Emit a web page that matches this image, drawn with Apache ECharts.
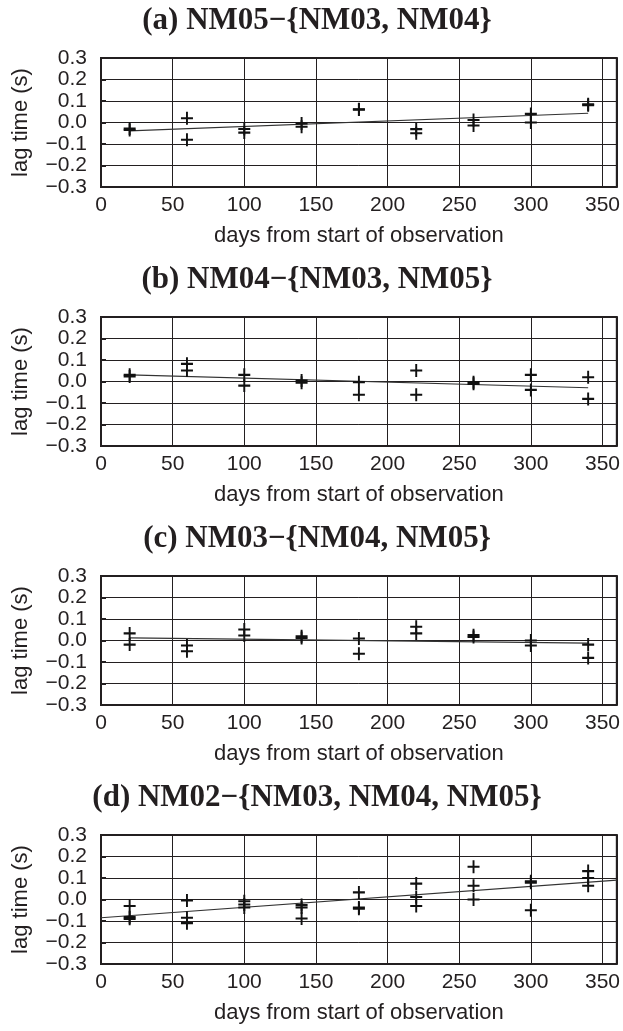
<!DOCTYPE html>
<html><head><meta charset="utf-8">
<script src="https://cdn.jsdelivr.net/npm/echarts@6/dist/echarts.min.js"></script>
<style>html,body{margin:0;padding:0;background:#fff}#c{width:623px;height:1031px}</style>
</head><body><div id="c"></div>
<script>
const days = [20, 60, 100, 140, 180, 220, 260, 300, 340];
const titles = ['(a) NM05\u2212{NM03, NM04}', '(b) NM04\u2212{NM03, NM05}', '(c) NM03\u2212{NM04, NM05}', '(d) NM02\u2212{NM03, NM04, NM05}'];
const xTicks = [0, 50, 100, 150, 200, 250, 300, 350];
const yTicks = [-0.3, -0.2, -0.1, 0.0, 0.1, 0.2, 0.3];
// panel (a)
const lagA1 = [-0.028, 0.020, -0.030, -0.005, 0.062, -0.031, 0.012, 0.040, 0.085];
const lagA2 = [-0.035, -0.080, -0.047, -0.020, 0.060, -0.050, -0.014, 0.000, 0.080];
const fitA = [[20, -0.039], [340, 0.043]];
// panel (b)
const lagB1 = [0.031, 0.082, 0.031, 0.005, -0.003, 0.051, -0.003, 0.031, 0.020];
const lagB2 = [0.023, 0.051, -0.019, -0.006, -0.062, -0.062, -0.011, -0.039, -0.081];
const fitB = [[20, 0.031], [340, -0.029]];
// panel (c)
const lagC1 = [0.033, -0.023, 0.051, 0.020, 0.009, 0.064, 0.025, 0.000, -0.019];
const lagC2 = [-0.019, -0.050, 0.023, 0.012, -0.062, 0.033, 0.016, -0.023, -0.081];
const fitC = [[20, 0.012], [340, -0.012]];
// panel (d)
const lagD1 = [-0.030, -0.005, -0.008, -0.026, 0.033, 0.074, 0.152, 0.085, 0.132];
const lagD2 = [-0.082, -0.085, -0.023, -0.037, -0.037, 0.012, 0.064, 0.078, 0.100];
const lagD3 = [-0.090, -0.110, -0.037, -0.088, -0.043, -0.030, 0.000, -0.050, 0.064];
const fitD = [[0, -0.085], [360, 0.090]];

const panels = [
  {lags: [lagA1, lagA2], fit: fitA},
  {lags: [lagB1, lagB2], fit: fitB},
  {lags: [lagC1, lagC2], fit: fitC},
  {lags: [lagD1, lagD2, lagD3], fit: fitD}
];

const PLUS = 'path://M5,0L5,10M0,5L10,5';
const top0 = 58, step = 259, plotH = 129, left = 101, right = 2;
const ink = '#231f20';
const sans = 'Liberation Sans, Arial, sans-serif';
const option = {animation: false, backgroundColor: '#fff', title: [], grid: [], xAxis: [], yAxis: [], series: []};
panels.forEach((p, i) => {
  const top = top0 + step * i;
  option.title.push({text: titles[i], left: 317, top: top - 53, textAlign: 'center', padding: 0,
    textStyle: {fontFamily: 'Liberation Serif, Times New Roman, serif', fontWeight: 'bold', fontSize: 31, color: ink}});
  option.grid.push({left: left, right: right, top: top, height: plotH, show: true, borderColor: ink, borderWidth: 2, backgroundColor: 'transparent'});
  option.xAxis.push({type: 'value', gridIndex: i, min: 0, max: 360, interval: 50,
    name: 'days from start of observation', nameLocation: 'middle', nameGap: 38,
    nameTextStyle: {fontFamily: sans, fontSize: 22, color: ink},
    axisLine: {show: false}, axisTick: {show: false},
    splitLine: {show: true, lineStyle: {color: ink, width: 1}},
    axisLabel: {showMinLabel: true, showMaxLabel: true, hideOverlap: false, margin: 8, fontFamily: sans, fontSize: 21, color: ink,
      formatter: v => xTicks.includes(v) ? String(v) : ''}});
  option.yAxis.push({type: 'value', gridIndex: i, min: -0.3, max: 0.3, interval: 0.1,
    name: 'lag time (s)', nameLocation: 'middle', nameGap: 69,
    nameTextStyle: {fontFamily: sans, fontSize: 22, color: ink},
    axisLine: {show: false},
    axisTick: {show: true, inside: true, length: 5, lineStyle: {color: ink, width: 2}},
    splitLine: {show: true, lineStyle: {color: ink, width: 1}},
    axisLabel: {showMinLabel: true, showMaxLabel: true, hideOverlap: false, margin: 14, fontFamily: sans, fontSize: 21, color: ink, lineHeight: 21,
      formatter: v => { const t = yTicks.find(y => Math.abs(y - v) < 1e-9); return t === undefined ? '' : (t < 0 ? '\u2212' + Math.abs(t).toFixed(1) : t.toFixed(1)); }}});
  p.lags.forEach(arr => {
    option.series.push({type: 'scatter', xAxisIndex: i, yAxisIndex: i, symbol: PLUS, symbolSize: [12, 13],
      itemStyle: {color: 'none', borderColor: '#111', borderWidth: 2, opacity: 1},
      data: days.map((d, k) => [d, arr[k]]), z: 3});
  });
  option.series.push({type: 'line', xAxisIndex: i, yAxisIndex: i, showSymbol: false, symbol: 'none',
    lineStyle: {color: '#333', width: 1.1}, data: p.fit, z: 2});
});
echarts.init(document.getElementById('c'), null, {renderer: 'canvas'}).setOption(option);
</script></body></html>
